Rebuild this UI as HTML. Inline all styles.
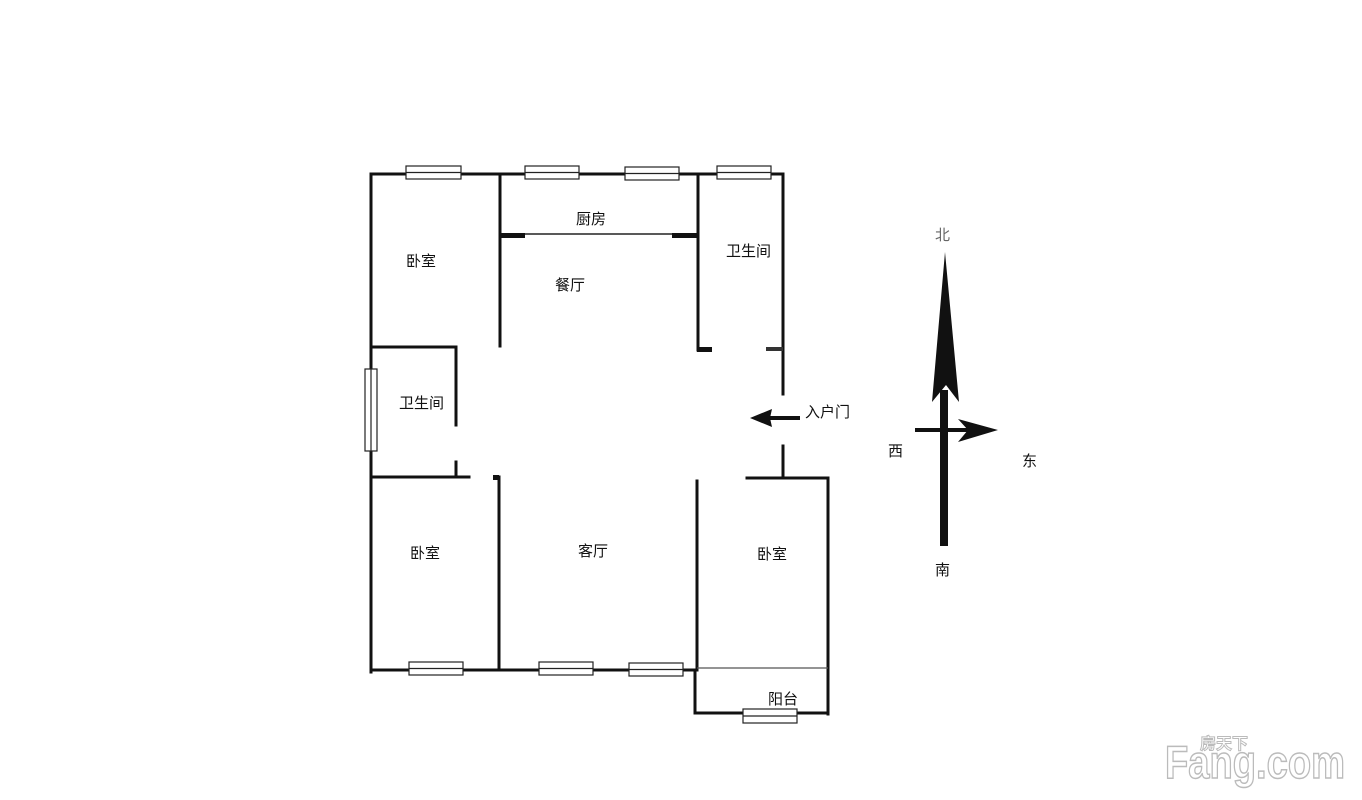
<!DOCTYPE html>
<html><head><meta charset="utf-8"><style>
html,body{margin:0;padding:0;background:#fff;}
svg{display:block}
text{font-family:"Liberation Sans","Noto Sans CJK SC",sans-serif;}
</style></head><body>
<svg width="1362" height="800" viewBox="0 0 1362 800" xmlns="http://www.w3.org/2000/svg">
<rect width="1362" height="800" fill="#fff"/>
<g stroke="#111" stroke-width="3" fill="none" stroke-linecap="square">
<line x1="371" y1="174" x2="783" y2="174"/>
<line x1="371" y1="174" x2="371" y2="672"/>
<line x1="500" y1="174" x2="500" y2="346"/>
<line x1="698" y1="174" x2="698" y2="350"/>
<line x1="783" y1="174" x2="783" y2="394"/>
<line x1="783" y1="446" x2="783" y2="478"/>
<line x1="371" y1="347" x2="456" y2="347"/>
<line x1="456" y1="347" x2="456" y2="425"/>
<line x1="456" y1="462" x2="456" y2="477"/>
<line x1="371" y1="477" x2="469" y2="477"/>
<line x1="499" y1="477" x2="499" y2="670"/>
<line x1="697" y1="481" x2="697" y2="670"/>
<line x1="747" y1="478" x2="828" y2="478"/>
<line x1="828" y1="478" x2="828" y2="714"/>
<line x1="371" y1="670" x2="697" y2="670"/>
<line x1="695" y1="670" x2="695" y2="713"/>
<line x1="695" y1="713" x2="828" y2="713"/>
</g>
<line x1="500" y1="234" x2="698" y2="234" stroke="#222" stroke-width="1.5"/>
<rect x="500" y="233" width="25" height="5" fill="#111"/>
<rect x="672" y="233" width="26" height="5" fill="#111"/>
<rect x="697" y="347" width="15" height="5" fill="#111"/>
<rect x="766" y="347" width="17" height="4" fill="#333"/>
<rect x="493" y="475" width="6" height="5" fill="#111"/>
<line x1="697" y1="668" x2="828" y2="668" stroke="#555" stroke-width="1.2"/>
<g fill="#fff" stroke="#222" stroke-width="1.2">
<rect x="406" y="166" width="55" height="13"/><line x1="406" y1="172.5" x2="461" y2="172.5"/>
<rect x="525" y="166" width="54" height="13"/><line x1="525" y1="172.5" x2="579" y2="172.5"/>
<rect x="625" y="167" width="54" height="13"/><line x1="625" y1="173.5" x2="679" y2="173.5"/>
<rect x="717" y="166" width="54" height="13"/><line x1="717" y1="172.5" x2="771" y2="172.5"/>
<rect x="365" y="369" width="12" height="82"/><line x1="371" y1="369" x2="371" y2="451"/>
<rect x="409" y="662" width="54" height="13"/><line x1="409" y1="668.5" x2="463" y2="668.5"/>
<rect x="539" y="662" width="54" height="13"/><line x1="539" y1="668.5" x2="593" y2="668.5"/>
<rect x="629" y="663" width="54" height="13"/><line x1="629" y1="669.5" x2="683" y2="669.5"/>
<rect x="743" y="709" width="54" height="14"/><line x1="743" y1="716" x2="797" y2="716"/>
</g>
<g font-size="15" fill="#111">
<text x="576" y="224">厨房</text>
<text x="406" y="266">卧室</text>
<text x="555" y="290">餐厅</text>
<text x="726" y="256">卫生间</text>
<text x="399" y="408">卫生间</text>
<text x="410" y="558">卧室</text>
<text x="578" y="556">客厅</text>
<text x="757" y="559">卧室</text>
<text x="768" y="704">阳台</text>
<text x="805" y="417">入户门</text>
<text x="935" y="240" fill="#666">北</text>
<text x="888" y="456">西</text>
<text x="1022" y="466">东</text>
<text x="935" y="575">南</text>
</g>
<line x1="764" y1="418" x2="800" y2="418" stroke="#111" stroke-width="4"/>
<polygon points="750,418 772,409 770,418 772,427" fill="#111"/>
<rect x="940" y="390" width="8" height="156" fill="#111"/>
<polygon points="945,252 959,402 946,385 932,402" fill="#111"/>
<line x1="915" y1="430" x2="970" y2="430" stroke="#111" stroke-width="4"/>
<polygon points="998,430 958,419 968,430 958,442" fill="#111"/>
<g fill="#fff" stroke="#bbb" stroke-width="1.5" font-weight="bold">
<text x="1165" y="778" font-size="46" textLength="180" lengthAdjust="spacingAndGlyphs">Fang.com</text>
<text x="1200" y="749" font-size="16" stroke-width="1">房天下</text>
</g>
</svg>
</body></html>
